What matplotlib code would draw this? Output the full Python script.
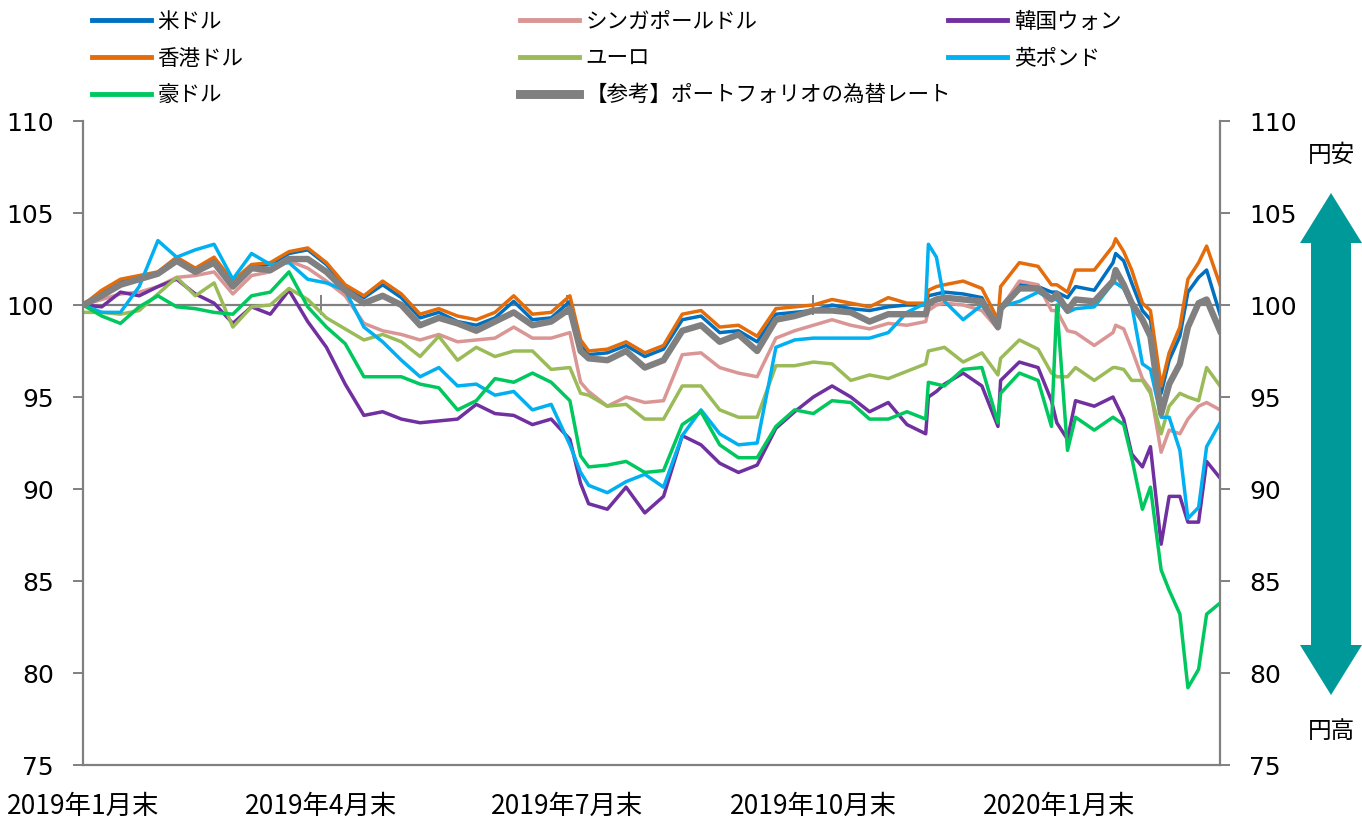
import matplotlib
matplotlib.use('Agg')
import matplotlib.pyplot as plt
import pandas as pd
from matplotlib.patches import Polygon

# ---------------- data ----------------
dates = pd.to_datetime([
    '2019-01-31', '2019-02-07', '2019-02-14', '2019-02-21', '2019-02-28', '2019-03-07', '2019-03-14', '2019-03-21', '2019-03-28', '2019-04-04',
    '2019-04-11', '2019-04-18', '2019-04-25', '2019-05-02', '2019-05-09', '2019-05-16', '2019-05-23', '2019-05-30', '2019-06-06', '2019-06-13',
    '2019-06-20', '2019-06-27', '2019-07-04', '2019-07-11', '2019-07-18', '2019-07-25', '2019-08-01', '2019-08-05', '2019-08-08', '2019-08-15',
    '2019-08-22', '2019-08-29', '2019-09-05', '2019-09-12', '2019-09-19', '2019-09-26', '2019-10-03', '2019-10-10', '2019-10-17', '2019-10-24',
    '2019-10-31', '2019-11-07', '2019-11-14', '2019-11-21', '2019-11-28', '2019-12-05', '2019-12-12', '2019-12-13', '2019-12-16', '2019-12-19',
    '2019-12-26', '2020-01-02', '2020-01-08', '2020-01-09', '2020-01-16', '2020-01-23', '2020-01-28', '2020-01-30', '2020-02-03', '2020-02-06',
    '2020-02-13', '2020-02-20', '2020-02-21', '2020-02-24', '2020-02-27', '2020-03-02', '2020-03-05', '2020-03-09', '2020-03-12', '2020-03-16',
    '2020-03-19', '2020-03-23', '2020-03-26', '2020-03-31'])

usd = [100.0, 100.7, 101.3, 101.5, 101.7, 102.5, 101.9, 102.5, 101.2, 102.1,
       102.2, 102.8, 103.0, 102.2, 101.0, 100.4, 101.1, 100.4, 99.3, 99.6,
       99.1, 98.9, 99.3, 100.2, 99.2, 99.3, 100.2, 97.8, 97.3, 97.4,
       97.8, 97.2, 97.6, 99.2, 99.4, 98.5, 98.6, 98.0, 99.5, 99.6,
       99.7, 100.0, 99.8, 99.7, 99.9, 100.0, 100.0, 100.5, 100.6, 100.7,
       100.6, 100.4, 98.8, 99.9, 101.1, 101.0, 100.7, 100.7, 100.4, 101.0,
       100.8, 102.3, 102.8, 102.4, 101.2, 99.7, 99.2, 95.2, 97.0, 98.3,
       100.7, 101.5, 101.9, 99.5]

hkd = [100.0, 100.8, 101.4, 101.6, 101.8, 102.6, 102.0, 102.6, 101.3, 102.2,
       102.3, 102.9, 103.1, 102.3, 101.1, 100.5, 101.3, 100.6, 99.5, 99.8,
       99.4, 99.2, 99.6, 100.5, 99.5, 99.6, 100.5, 98.1, 97.5, 97.6,
       98.0, 97.4, 97.8, 99.5, 99.7, 98.8, 98.9, 98.3, 99.8, 99.9,
       100.0, 100.3, 100.1, 99.9, 100.4, 100.1, 100.1, 100.8, 101.0, 101.1,
       101.3, 100.9, 99.2, 101.0, 102.3, 102.1, 101.1, 101.1, 100.7, 101.9,
       101.9, 103.2, 103.6, 102.9, 101.9, 100.1, 99.7, 95.6, 97.4, 98.8,
       101.4, 102.3, 103.2, 101.1]

sgd = [100.0, 100.3, 100.6, 100.7, 101.0, 101.5, 101.6, 101.8, 100.6, 101.6,
       101.8, 102.4, 102.0, 101.3, 100.5, 99.0, 98.6, 98.4, 98.1, 98.4,
       98.0, 98.1, 98.2, 98.8, 98.2, 98.2, 98.5, 95.8, 95.3, 94.5,
       95.0, 94.7, 94.8, 97.3, 97.4, 96.6, 96.3, 96.1, 98.2, 98.6,
       98.9, 99.2, 98.9, 98.7, 99.0, 98.9, 99.1, 99.7, 100.0, 100.1,
       100.0, 99.7, 98.7, 99.8, 101.3, 101.1, 99.7, 99.7, 98.6, 98.5,
       97.8, 98.5, 98.9, 98.7, 97.6, 96.0, 95.4, 92.0, 93.2, 93.0,
       93.8, 94.5, 94.7, 94.3]

krw = [100.0, 99.9, 100.7, 100.5, 101.0, 101.4, 100.6, 100.1, 99.0, 99.9,
       99.5, 100.8, 99.1, 97.7, 95.7, 94.0, 94.2, 93.8, 93.6, 93.7,
       93.8, 94.6, 94.1, 94.0, 93.5, 93.8, 92.7, 90.3, 89.2, 88.9,
       90.1, 88.7, 89.6, 92.9, 92.4, 91.4, 90.9, 91.3, 93.3, 94.2,
       95.0, 95.6, 95.0, 94.2, 94.7, 93.5, 93.0, 95.0, 95.3, 95.7,
       96.3, 95.6, 93.4, 95.9, 96.9, 96.6, 94.8, 93.6, 92.7, 94.8,
       94.5, 95.0, 94.7, 93.8, 91.9, 91.2, 92.3, 87.0, 89.6, 89.6,
       88.2, 88.2, 91.5, 90.6]

eur = [99.6, 99.6, 99.5, 99.7, 100.6, 101.5, 100.5, 101.2, 98.8, 99.9,
       100.0, 100.9, 100.3, 99.3, 98.7, 98.1, 98.4, 98.0, 97.2, 98.3,
       97.0, 97.7, 97.2, 97.5, 97.5, 96.5, 96.6, 95.2, 95.1, 94.5,
       94.6, 93.8, 93.8, 95.6, 95.6, 94.3, 93.9, 93.9, 96.7, 96.7,
       96.9, 96.8, 95.9, 96.2, 96.0, 96.4, 96.8, 97.5, 97.6, 97.7,
       96.9, 97.4, 96.2, 97.1, 98.1, 97.6, 96.3, 96.1, 96.1, 96.6,
       95.9, 96.6, 96.6, 96.5, 95.9, 95.9, 95.2, 93.0, 94.5, 95.2,
       95.0, 94.8, 96.6, 95.6]

gbp = [100.0, 99.6, 99.6, 101.0, 103.5, 102.6, 103.0, 103.3, 101.4, 102.8,
       102.2, 102.3, 101.4, 101.2, 100.8, 98.8, 98.0, 97.0, 96.1, 96.6,
       95.6, 95.7, 95.1, 95.3, 94.3, 94.6, 92.4, 90.9, 90.2, 89.8,
       90.4, 90.8, 90.1, 92.9, 94.3, 93.0, 92.4, 92.5, 97.7, 98.1,
       98.2, 98.2, 98.2, 98.2, 98.5, 99.6, 100.1, 103.3, 102.6, 100.2,
       99.2, 100.0, 98.8, 99.9, 100.2, 100.7, 100.3, 100.3, 99.6, 99.8,
       99.9, 101.2, 101.2, 100.9, 100.0, 96.8, 96.5, 93.9, 93.9, 92.1,
       88.4, 89.0, 92.3, 93.6]

aud = [100.0, 99.4, 99.0, 99.9, 100.5, 99.9, 99.8, 99.6, 99.5, 100.5,
       100.7, 101.8, 99.9, 98.8, 97.9, 96.1, 96.1, 96.1, 95.7, 95.5,
       94.3, 94.8, 96.0, 95.8, 96.3, 95.8, 94.8, 91.8, 91.2, 91.3,
       91.5, 90.9, 91.0, 93.5, 94.2, 92.4, 91.7, 91.7, 93.4, 94.3,
       94.1, 94.8, 94.7, 93.8, 93.8, 94.2, 93.8, 95.8, 95.7, 95.6,
       96.5, 96.6, 93.6, 95.2, 96.3, 95.9, 93.4, 100.0, 92.1, 93.9,
       93.2, 93.9, 93.8, 93.5, 91.7, 88.9, 90.1, 85.6, 84.5, 83.2,
       79.2, 80.2, 83.2, 83.8]

portfolio = [100.0, 100.5, 101.1, 101.4, 101.7, 102.4, 101.8, 102.3, 101.0, 102.0,
             101.9, 102.5, 102.5, 101.8, 100.8, 100.1, 100.5, 100.0, 98.9, 99.3,
             99.0, 98.6, 99.1, 99.6, 98.9, 99.1, 99.8, 97.5, 97.1, 97.0,
             97.5, 96.6, 97.0, 98.6, 98.9, 98.0, 98.4, 97.5, 99.2, 99.4,
             99.7, 99.7, 99.6, 99.1, 99.5, 99.5, 99.5, 100.1, 100.3, 100.4,
             100.3, 100.2, 98.8, 99.8, 100.9, 100.9, 100.3, 100.6, 99.7, 100.3,
             100.2, 101.3, 101.9, 101.1, 100.1, 99.2, 98.3, 94.1, 95.7, 96.8,
             98.8, 100.1, 100.3, 98.6]

labels = {'usd': '米ドル', 'hkd': '香港ドル', 'aud': '豪ドル', 'sgd': 'シンガポールドル',
          'eur': 'ユーロ', 'pf': '【参考】ポートフォリオの為替レート', 'krw': '韓国ウォン', 'gbp': '英ポンド'}
xtick_dates = pd.to_datetime(['2019-01-31', '2019-04-30', '2019-07-31', '2019-10-31', '2020-01-31'])
xtick_labels = ['2019年1月末', '2019年4月末', '2019年7月末', '2019年10月末', '2020年1月末']
yticks = [75, 80, 85, 90, 95, 100, 105, 110]

# ---------------- style ----------------
JP = ['Noto Sans CJK JP', 'DejaVu Sans']
plt.rcParams['font.family'] = JP
GRAY = '#808080'

W, H = 1362, 821
fig = plt.figure(figsize=(W / 100, H / 100), dpi=100)
ax = fig.add_axes([83 / W, (H - 765) / H, (1220 - 83) / W, (765 - 121) / H])

ax.axhline(100, color=GRAY, lw=1.6, zorder=1)
ax.plot(xtick_dates[1:], [100] * (len(xtick_dates) - 1), ls='none', marker='|',
        ms=14, mew=1.4, color=GRAY, zorder=1)

lw = 2.5
series = [
    ('usd', usd, '#0070C0', lw),
    ('sgd', sgd, '#D99694', lw),
    ('krw', krw, '#7030A0', lw),
    ('hkd', hkd, '#E46C0A', lw),
    ('eur', eur, '#9BBB59', lw),
    ('gbp', gbp, '#00B0F0', lw),
    ('aud', aud, '#00C85F', lw),
    ('pf', portfolio, '#808080', 4.6),
]
handles = {}
for key, vals, col, w in series:
    h, = ax.plot(dates, vals, color=col, lw=w, solid_joinstyle='round', zorder=2)
    handles[key] = h

ax.set_xlim(pd.Timestamp('2019-01-31'), pd.Timestamp('2020-03-31'))
ax.set_ylim(75, 110)
ax.set_yticks(yticks)
ax.tick_params(axis='y', which='both', left=True, right=True, labelleft=True, labelright=True,
               direction='out', length=7, width=1.4, color=GRAY, pad=14, labelsize=18)
for t in ax.yaxis.get_major_ticks():
    t.label1.set_fontfamily('DejaVu Sans')
    t.label2.set_fontfamily('DejaVu Sans')

ax.set_xticks(xtick_dates)
ax.set_xticklabels(xtick_labels, fontsize=19)
ax.tick_params(axis='x', length=0, pad=20)

for s in ['left', 'right', 'bottom']:
    ax.spines[s].set_color(GRAY)
    ax.spines[s].set_linewidth(1.6)
ax.spines['top'].set_visible(False)

# legends (three columns)
cols = [(['usd', 'hkd', 'aud'], 92), (['sgd', 'eur', 'pf'], 520), (['krw', 'gbp'], 948)]
for keys, xpix in cols:
    leg = fig.legend([handles[k] for k in keys], [labels[k] for k in keys],
                     loc='upper left', bbox_to_anchor=(xpix / W, 1 - 11 / H),
                     frameon=False, fontsize=15.5, handlelength=2.75, handletextpad=0.3,
                     labelspacing=0.68, borderpad=0, borderaxespad=0)
    for line in leg.get_lines():
        line.set_linewidth(line.get_linewidth() * 1.4)

# right-side arrow & labels (pixel overlay)
ov = fig.add_axes([0, 0, 1, 1], facecolor='none')
ov.set_xlim(0, W)
ov.set_ylim(H, 0)
ov.axis('off')
cx = 1331
arrow = [(cx, 193), (cx + 31, 243), (cx + 20, 243), (cx + 20, 645), (cx + 31, 645),
         (cx, 695), (cx - 31, 645), (cx - 20, 645), (cx - 20, 243), (cx - 31, 243)]
ov.add_patch(Polygon(arrow, closed=True, facecolor='#009999', edgecolor='none'))
ov.text(cx, 155, '円安', ha='center', va='center', fontsize=17)
ov.text(cx, 732, '円高', ha='center', va='center', fontsize=17)

fig.savefig('out.png', dpi=100)
